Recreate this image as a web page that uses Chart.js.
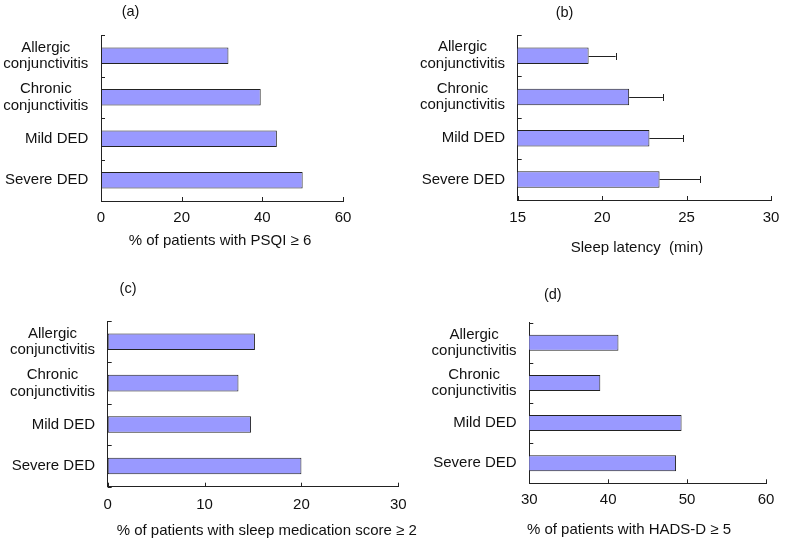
<!DOCTYPE html>
<html><head><meta charset="utf-8">
<script src="https://cdn.jsdelivr.net/npm/chart.js@4.4.1/dist/chart.umd.min.js"></script>
<style>
html,body{margin:0;padding:0;background:#fff;width:787px;height:546px;overflow:hidden}
canvas{position:absolute;left:0;top:0}
</style></head><body>
<canvas id="pa" width="787" height="546"></canvas>
<canvas id="pb" width="787" height="546"></canvas>
<canvas id="pc" width="787" height="546"></canvas>
<canvas id="pd" width="787" height="546"></canvas>
<script>
// ---- data ----
const categories = [['Allergic', 'conjunctivitis'], ['Chronic', 'conjunctivitis'], 'Mild DED', 'Severe DED'];
const psqiPct = [31.6, 39.6, 43.6, 50.0];
const sleepLatency = [19.2, 21.6, 22.8, 23.4];
const sleepLatencyErr = [1.6, 2.0, 2.0, 2.4];
const medicationPct = [15.2, 13.5, 14.8, 20.0];
const hadsPct = [41.3, 39.0, 49.3, 48.6];
const ticksA = [0, 20, 40, 60];
const ticksB = [15, 20, 25, 30];
const ticksC = [0, 10, 20, 30];
const ticksD = [30, 40, 50, 60];

// ---- styles ----
const FONT = '"Liberation Sans", Arial, sans-serif';
const TEXT = '#111';
const AXIS = '#222';
const BAR = '#9999ff';
const W = 787, H = 546;

const decor = {
  id: 'decor',
  afterDatasetsDraw(chart, args, o) {
    const ctx = chart.ctx, area = chart.chartArea, xs = chart.scales.x, ys = chart.scales.y;
    ctx.save();
    ctx.strokeStyle = AXIS; ctx.lineWidth = 1;
    if (o.errors) {
      const meta = chart.getDatasetMeta(0);
      const vals = chart.data.datasets[0].data;
      ctx.beginPath();
      meta.data.forEach((bar, i) => {
        const xe = xs.getPixelForValue(vals[i] + o.errors[i]);
        const y = Math.round(bar.y) + 0.5;
        ctx.moveTo(bar.x, y); ctx.lineTo(xe, y);
        ctx.moveTo(Math.round(xe) + 0.5, y - 3.5); ctx.lineTo(Math.round(xe) + 0.5, y + 3.5);
      });
      ctx.stroke();
    }
    ctx.beginPath();
    xs.ticks.forEach(t => {
      const px = Math.round(xs.getPixelForValue(t.value)) + 0.5;
      ctx.moveTo(px, area.bottom); ctx.lineTo(px, area.bottom - 4);
    });
    for (let i = 0; i <= chart.data.labels.length; i++) {
      const py = Math.round(ys.getPixelForValue(i - 0.5)) + 0.5;
      ctx.moveTo(area.left, py); ctx.lineTo(area.left + 4, py);
    }
    ctx.stroke();
    ctx.fillStyle = TEXT; ctx.textBaseline = 'middle'; ctx.textAlign = 'center';
    ctx.font = '15px ' + FONT;
    chart.data.labels.forEach((lab, i) => {
      const lines = Array.isArray(lab) ? lab : [lab];
      const w = Math.max(...lines.map(l => ctx.measureText(l).width));
      const cx = area.left - o.labelGap - w / 2;
      const cy = ys.getPixelForValue(i);
      lines.forEach((l, k) => ctx.fillText(l, cx, cy + (k - (lines.length - 1) / 2) * o.lineHeight));
    });
    ctx.font = '15px ' + FONT;
    ctx.fillText(o.axisTitle, o.axisTitleX, o.axisTitleY);
    ctx.font = '14.5px ' + FONT;
    ctx.fillText(o.panel, o.panelX, o.panelY);
    ctx.restore();
  }
};

function makePanel(id, values, axisTicks, box, deco) {
  new Chart(document.getElementById(id), {
    type: 'bar',
    data: {
      labels: categories,
      datasets: [{
        data: values, backgroundColor: BAR, borderColor: AXIS, borderWidth: 1,
        borderSkipped: false, barPercentage: 0.4, categoryPercentage: 1
      }]
    },
    options: {
      indexAxis: 'y', responsive: false, animation: false, events: [],
      layout: { padding: { left: 0, top: box.top, right: W - box.right, bottom: 0 } },
      plugins: {
        legend: { display: false }, tooltip: { enabled: false }, title: { display: false },
        decor: Object.assign({ labelGap: 12.7, lineHeight: 16.7 }, deco)
      },
      scales: {
        x: {
          type: 'linear', min: axisTicks[0], max: axisTicks[axisTicks.length - 1],
          grid: { display: false, drawTicks: false },
          border: { display: true, color: AXIS, width: 1 },
          ticks: {
            stepSize: axisTicks[1] - axisTicks[0], padding: box.tickPad, color: TEXT,
            font: { family: FONT, size: 15 }, maxRotation: 0, autoSkip: false
          },
          afterFit: s => { s.height = H - box.bottom; s.paddingLeft = 0; s.paddingRight = 0; }
        },
        y: {
          grid: { display: false, drawTicks: false },
          border: { display: true, color: AXIS, width: 1 },
          ticks: { display: false },
          afterFit: s => { s.width = box.left; s.paddingTop = 0; s.paddingBottom = 0; }
        }
      }
    },
    plugins: [decor]
  });
}

makePanel('pa', psqiPct, ticksA,
  { left: 101, right: 343, top: 35, bottom: 201, tickPad: 8.3 },
  { panel: '(a)', panelX: 130.5, panelY: 11.7, axisTitle: '% of patients with PSQI \u2265 6', axisTitleX: 220, axisTitleY: 241 });
makePanel('pb', sleepLatency, ticksB,
  { left: 517.7, right: 771, top: 35, bottom: 200, tickPad: 9 },
  { panel: '(b)', panelX: 564.5, panelY: 13, axisTitle: 'Sleep latency  (min)', axisTitleX: 637, axisTitleY: 248, errors: sleepLatencyErr });
makePanel('pc', medicationPct, ticksC,
  { left: 107.7, right: 398.3, top: 321, bottom: 486.7, tickPad: 9.3 },
  { panel: '(c)', panelX: 128, panelY: 289.3, axisTitle: '% of patients with sleep medication score \u2265 2', axisTitleX: 266.7, axisTitleY: 530.7 });
makePanel('pd', hadsPct, ticksD,
  { left: 529.3, right: 766, top: 322.7, bottom: 483.3, tickPad: 7.7 },
  { panel: '(d)', panelX: 552.8, panelY: 295, axisTitle: '% of patients with HADS-D \u2265 5', axisTitleX: 629, axisTitleY: 530 });
</script>
</body></html>
